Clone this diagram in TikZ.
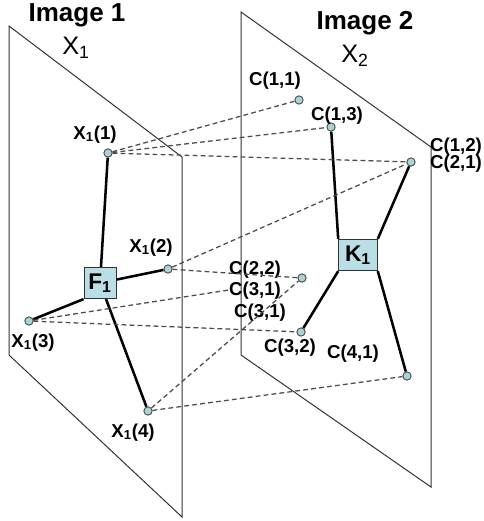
\documentclass[tikz,border=0pt]{standalone}
\usepackage{fontspec}
\setmainfont{Liberation Sans}
\definecolor{ptfill}{HTML}{A9D4D6}
\definecolor{boxfill}{HTML}{B9DEE5}

\begin{document}
\begin{tikzpicture}[x=0.75pt, y=-0.75pt, font=\fontsize{14}{15}\selectfont\bfseries,
  plane/.style={draw=black!80, line width=0.75pt},
  pt/.style={circle, draw=black!70, fill=ptfill, inner sep=0pt, minimum size=6.2pt, line width=0.7pt},
  feat/.style={draw=black!80, fill=boxfill, inner sep=0pt, minimum height=23.5pt, line width=0.7pt,
    font=\fontsize{17}{17}\selectfont\bfseries},
  link/.style={line width=1.9pt},
  match/.style={draw=black!70, line width=0.95pt, dash pattern=on 3.6pt off 2.4pt},
  lbl/.style={inner sep=0pt, text height=10pt, text depth=2.4pt},
  title/.style={inner sep=0pt, font=\fontsize{19.5}{20}\selectfont\bfseries},
  cam/.style={inner sep=0pt, font=\fontsize{19}{20}\selectfont}]
\useasboundingbox (0,0) rectangle (484,521);
\draw[plane] (9,26) -- (182,157) -- (182,517) -- (9,355) -- cycle;
\draw[plane] (241,12) -- (431,147) -- (431,487) -- (241,355) -- cycle;
\node[title] (img1) at (77,15) {Image 1};
\node[cam] (cam1) at (76,48) {X\textsubscript{1}};
\node[title] (img2) at (365,23) {Image 2};
\node[cam] (cam2) at (355,56) {X\textsubscript{2}};
\node[pt] (x1) at (108,153) {};
\node[pt] (x2) at (168,269) {};
\node[pt] (x3) at (29,321) {};
\node[pt] (x4) at (148,411) {};
\node[feat, minimum width=24pt] (f1) at (100,283) {F\textsubscript{1}};
\node[pt] (c11) at (299,100) {};
\node[pt] (c13) at (331,127) {};
\node[pt] (c21) at (411,162) {};
\node[pt] (c22) at (302,278) {};
\node[pt] (c32) at (301,332) {};
\node[pt] (c41) at (407,376) {};
\node[feat, minimum width=29pt] (k1) at (358,255) {K\textsubscript{1}};
\node[lbl] (lx1) at (95,134) {X\textsubscript{1}(1)};
\node[lbl] (lx2) at (151,247) {X\textsubscript{1}(2)};
\node[lbl] (lx3) at (33,342) {X\textsubscript{1}(3)};
\node[lbl] (lx4) at (133,432) {X\textsubscript{1}(4)};
\node[lbl] (lc11) at (275,80) {C(1,1)};
\node[lbl] (lc13) at (337,115) {C(1,3)};
\node[lbl] (lc12) at (456,146) {C(1,2)};
\node[lbl] (lc21) at (456,163) {C(2,1)};
\node[lbl] (lc22) at (255,269) {C(2,2)};
\node[lbl] (lc31a) at (255,290) {C(3,1)};
\node[lbl] (lc31b) at (260,312) {C(3,1)};
\node[lbl] (lc32) at (290,347) {C(3,2)};
\node[lbl] (lc41) at (353,353) {C(4,1)};
\foreach \u/\v in {x1/f1, x2/f1, x3/f1.south west, x4/f1, c13/k1.north west, c21/k1.north east,
  c32/k1.south west, c41/k1.south east} \draw[link] (\u) -- (\v);
\foreach \u/\v in {x1/c11, x1/c13, x1/c21, x2/c21, x2/c22, x3/lc31a.west, x3/c32, x4/c22, x4/c41}
  \draw[match] (\u) -- (\v);
\end{tikzpicture}
\end{document}
